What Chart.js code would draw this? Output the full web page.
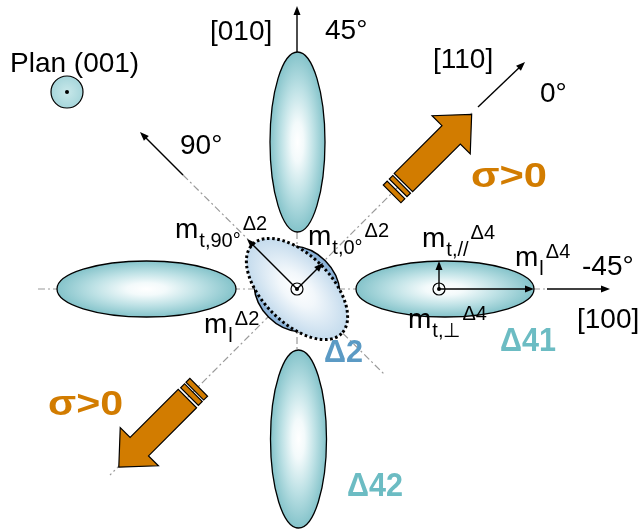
<!DOCTYPE html>
<html>
<head>
<meta charset="utf-8">
<script src="https://cdn.jsdelivr.net/npm/chart.js@4.4.1/dist/chart.umd.min.js"></script>
<style>
  html, body { margin: 0; padding: 0; background: #fff; }
  #wrap { width: 638px; height: 530px; }
</style>
</head>
<body>
<div id="wrap"><canvas id="c" width="638" height="530"></canvas></div>
<script>
// DATA (diagram units, x to the right, y downward)

// Δ4 valleys (4 ellipses)
const valleyCx = [297.5, 146.5, 445, 298.5];
const valleyCy = [142, 289, 289, 439];
const valleyRx = [27.5, 89.5, 89, 28];
const valleyRy = [90, 28, 28, 89];

// Δ2 valley: solid ellipse + dotted ellipse, tilted along the 90° direction
const d2Center = [297, 289];
const d2Tilt = 45;
const d2Solid = [46, 40];
const d2Dotted = [63, 34];

// dash-dot guide lines
const guideX = [[38, 547], [297, 297], [183, 384], [472, 110]];
const guideY = [[289, 289], [52, 530], [175, 374], [113, 475]];

// thin black arrows (from -> to)
const arrowFrom = [[297, 52], [478, 107], [183, 175], [547, 289], [297, 289], [297, 289], [439, 289], [439, 289]];
const arrowTo = [[297, 6], [525, 62], [140, 132], [610, 289], [247, 239], [323, 263], [439, 261], [534, 289]];

// small circles with a dot (origin markers)
const dotCx = [297, 439];
const dotCy = [289, 289];

// stress arrows σ>0 (angle in degrees, distances from the Δ2 center)
const stressAngle = [-45, 135];
const stressTail = [150.5, 155];
const stressHeadBase = [218, 223];
const stressTip = [247, 252];
const stressStripes = [[[143, 148], [134.5, 140]], [[146.5, 152], [139, 144.5]]];

// labels
const plainText = ["Plan (001)", "[010]", "45°", "[110]", "0°", "90°", "-45°", "[100]"];
const plainX = [10, 210, 325, 433, 540, 180, 582, 577];
const plainY = [72, 40, 39, 68, 102, 154, 275, 328];

const mSub = ["t,90°", "t,0°", "l", "t,//", "l", "t,⊥"];
const mSup = ["Δ2", "Δ2", "Δ2", "Δ4", "Δ4", "Δ4"];
const mX = [175, 308, 204, 422, 515, 408];
const mY = [238, 245, 333, 247, 266, 328];

const boldText = ["σ>0", "σ>0", "Δ2", "Δ41", "Δ42"];
const boldX = [471, 48, 324, 500, 347];
const boldY = [187, 415, 362, 351, 496];
const boldW = [76, 75, 39, 56, 56];
const boldColor = ["#d27c00", "#d27c00", "#5b9ac4", "#6cbcc3", "#6cbcc3"];
const boldSize = [35, 35, 31, 33, 33];

const FONT = '"Liberation Sans", Arial, sans-serif';

// guide line datasets
const guides = guideX.map((gx, i) => ({
    data: [{ x: gx[0], y: guideY[i][0] }, { x: gx[1], y: guideY[i][1] }],
    showLine: true,
    borderColor: "#9a9a9a",
    borderWidth: 1.2,
    borderDash: [7, 3, 2, 3],
    pointRadius: 0,
    fill: false
}))

function gradEllipse(ctx, cx, cy, rx, ry, rot, stops) {
    ctx.save()
    ctx.translate(cx, cy)
    ctx.rotate(rot)
    ctx.scale(rx, ry)
    ctx.beginPath()
    ctx.arc(0, 0, 1, 0, Math.PI * 2)
    let g = ctx.createRadialGradient(0, 0, 0, 0, 0, 1)
    stops.forEach(s => g.addColorStop(s[0], s[1]))
    ctx.fillStyle = g
    ctx.fill()
    ctx.restore()
}

function thinArrow(ctx, x1, y1, x2, y2) {
    let a = Math.atan2(y2 - y1, x2 - x1)
    ctx.strokeStyle = "#000"
    ctx.lineWidth = 1.4
    ctx.beginPath()
    ctx.moveTo(x1, y1)
    ctx.lineTo(x2 - 6 * Math.cos(a), y2 - 6 * Math.sin(a))
    ctx.stroke()
    ctx.fillStyle = "#000"
    ctx.beginPath()
    ctx.moveTo(x2, y2)
    ctx.lineTo(x2 - 9 * Math.cos(a) + 3.5 * Math.sin(a), y2 - 9 * Math.sin(a) - 3.5 * Math.cos(a))
    ctx.lineTo(x2 - 9 * Math.cos(a) - 3.5 * Math.sin(a), y2 - 9 * Math.sin(a) + 3.5 * Math.cos(a))
    ctx.closePath()
    ctx.fill()
}

const diagram = {
    id: "diagram",
    afterDatasetsDraw(chart) {
        const ctx = chart.ctx
        const sx = chart.scales.x, sy = chart.scales.y
        const px = v => sx.getPixelForValue(v)
        const py = v => sy.getPixelForValue(v)
        const dx = (v, d) => px(v + d) - px(v)
        const dy = (v, d) => py(v + d) - py(v)

        const teal = [[0, "#ffffff"], [0.22, "#f3fafb"], [0.6, "#bde1e5"], [1, "#84c3ca"]]

        // Δ4 valleys
        valleyCx.forEach((cx, i) => {
            let x = px(cx), y = py(valleyCy[i])
            let rx = dx(cx, valleyRx[i]), ry = dy(valleyCy[i], valleyRy[i])
            gradEllipse(ctx, x, y, rx, ry, 0, teal)
            ctx.strokeStyle = "#000"
            ctx.lineWidth = 1.3
            ctx.setLineDash([])
            ctx.stroke()
        })

        // Δ2 valley
        let cx = px(d2Center[0]), cy = py(d2Center[1])
        let rot = d2Tilt * Math.PI / 180
        gradEllipse(ctx, cx, cy, dx(d2Center[0], d2Solid[0]), dx(d2Center[0], d2Solid[1]), rot,
            [[0, "#eef5fb"], [0.6, "#b3cee7"], [1, "#86afd6"]])
        ctx.strokeStyle = "#000"
        ctx.lineWidth = 1.5
        ctx.stroke()
        gradEllipse(ctx, cx, cy, dx(d2Center[0], d2Dotted[0]), dx(d2Center[0], d2Dotted[1]), rot,
            [[0, "#ffffff"], [0.35, "#f2f7fb"], [1, "#c4dbed"]])
        ctx.lineWidth = 3
        ctx.setLineDash([2.6, 2.6])
        ctx.stroke()
        ctx.setLineDash([])

        // plan (001) marker
        gradEllipse(ctx, px(67), py(92), dx(67, 16), dx(67, 16), 0, [[0, "#c9e8ea"], [1, "#a6d6db"]])
        ctx.lineWidth = 1.2
        ctx.stroke()
        ctx.fillStyle = "#000"
        ctx.beginPath()
        ctx.arc(px(67), py(92), 2, 0, Math.PI * 2)
        ctx.fill()

        // thin arrows
        arrowFrom.forEach((f, i) => {
            thinArrow(ctx, px(f[0]), py(f[1]), px(arrowTo[i][0]), py(arrowTo[i][1]))
        })

        // origin markers
        dotCx.forEach((x0, i) => {
            ctx.strokeStyle = "#000"
            ctx.lineWidth = 1.2
            ctx.beginPath()
            ctx.arc(px(x0), py(dotCy[i]), 6, 0, Math.PI * 2)
            ctx.stroke()
            ctx.fillStyle = "#000"
            ctx.beginPath()
            ctx.arc(px(x0), py(dotCy[i]), 2, 0, Math.PI * 2)
            ctx.fill()
        })

        // stress arrows
        stressAngle.forEach((ang, i) => {
            ctx.save()
            ctx.translate(cx, cy)
            ctx.rotate(ang * Math.PI / 180)
            ctx.fillStyle = "#d27c00"
            ctx.strokeStyle = "#000"
            ctx.lineWidth = 1.2
            let t = stressTail[i], b = stressHeadBase[i], tip = stressTip[i]
            ctx.beginPath()
            ctx.moveTo(t, -13)
            ctx.lineTo(b, -13)
            ctx.lineTo(b, -27)
            ctx.lineTo(tip, 0)
            ctx.lineTo(b, 27)
            ctx.lineTo(b, 13)
            ctx.lineTo(t, 13)
            ctx.closePath()
            ctx.fill()
            ctx.stroke()
            stressStripes[i].forEach(s => {
                ctx.beginPath()
                ctx.rect(s[0], -12.5, s[1] - s[0], 25)
                ctx.fill()
                ctx.stroke()
            })
            ctx.restore()
        })

        // plain labels
        ctx.fillStyle = "#000"
        ctx.textBaseline = "alphabetic"
        ctx.textAlign = "left"
        ctx.font = "28px " + FONT
        plainText.forEach((s, i) => ctx.fillText(s, px(plainX[i]), py(plainY[i])))

        // effective mass labels
        mSub.forEach((sub, i) => {
            let x = px(mX[i]), y = py(mY[i])
            ctx.font = "28px " + FONT
            ctx.fillText("m", x, y)
            let w = ctx.measureText("m").width
            ctx.font = "20px " + FONT
            ctx.fillText(sub, x + w + 1, y + 9)
            let w2 = ctx.measureText(sub).width
            ctx.fillText(mSup[i], x + w + w2 + 3, y - 8)
        })

        // bold coloured labels, stretched to the width seen in the figure
        boldText.forEach((s, i) => {
            ctx.font = "bold " + boldSize[i] + "px " + FONT
            ctx.fillStyle = boldColor[i]
            let k = boldW[i] / ctx.measureText(s).width
            ctx.save()
            ctx.translate(px(boldX[i]), py(boldY[i]))
            ctx.scale(k, 1)
            ctx.fillText(s, 0, 0)
            ctx.restore()
        })
    }
}

new Chart(document.getElementById("c"), {
    type: "scatter",
    data: { datasets: guides },
    options: {
        responsive: false,
        animation: false,
        events: [],
        layout: { padding: 0 },
        plugins: { legend: { display: false }, tooltip: { enabled: false } },
        scales: {
            x: { type: "linear", min: 0, max: 638, display: false },
            y: { type: "linear", min: 0, max: 530, reverse: true, display: false }
        }
    },
    plugins: [diagram]
})
</script>
</body>
</html>
